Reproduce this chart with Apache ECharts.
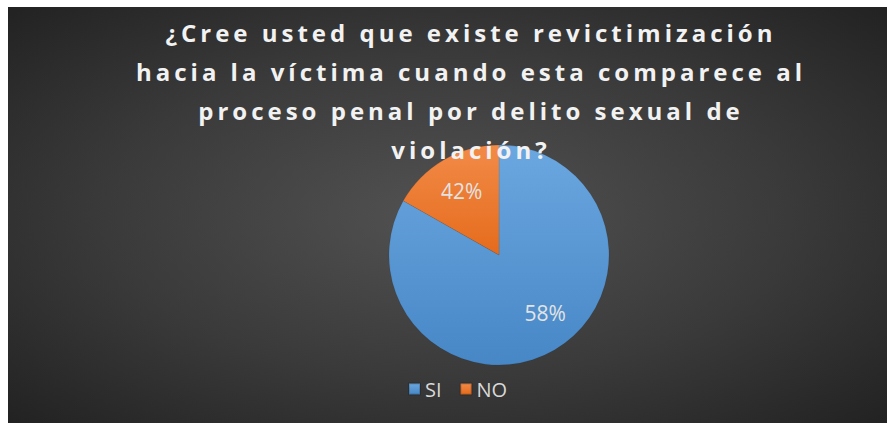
<!DOCTYPE html>
<html>
<head>
<meta charset="utf-8">
<script src="https://cdn.jsdelivr.net/npm/echarts@6/dist/echarts.min.js"></script>
<style>
	body { margin: 0; background: #fff; }
	#main {
		position: absolute; left: 8px; top: 7px; width: 879px; height: 416px;
		background: radial-gradient(ellipse farthest-corner at 50% 50%, #525252 0%, #3a3a3a 55%, #222222 100%);
	}
	/* the title is the only bold text: give it the wide tracking of the original */
	#main svg text[style*="bold"] { letter-spacing: 4px; }
</style>
</head>
<body>
<div id="main"></div>
<script>
	// categories and slice shares
	var categories = ['SI', 'NO'];
	var sliceValues = [83.2, 16.8];
	// the percent texts printed on the slices
	var sliceLabels = ['58%', '42%'];
	var sliceColors = ['#5b9bd5', '#ed7d31'];

	var chart = echarts.init(document.getElementById('main'), null, { renderer: 'svg' });

	var data = categories.map(function (name, i) {
		return {
			name: name,
			value: sliceValues[i],
			itemStyle: {
				color: new echarts.graphic.LinearGradient(0, 0, 0, 1, [
					{ offset: 0, color: i === 0 ? '#6ba7e0' : '#f28b48' },
					{ offset: 1, color: i === 0 ? '#4787c6' : '#e56b1c' }
				])
			}
		};
	});

	var option = {
		backgroundColor: 'transparent',
		color: sliceColors,
		title: {
			text: '¿Cree usted que existe revictimización\nhacia la víctima cuando esta comparece al\nproceso penal por delito sexual de\nviolación?',
			left: 458,
			top: 1,
			textAlign: 'center',
			textStyle: {
				fontFamily: 'Open Sans',
				fontWeight: 'bold',
				fontSize: 24,
				lineHeight: 39,
				color: '#f2f2f2'
			}
		},
		legend: {
			data: categories,
			left: 395,
			top: 367,
			icon: 'rect',
			itemWidth: 11,
			itemHeight: 11,
			itemGap: 18,
			textStyle: {
				fontFamily: 'Open Sans',
				fontSize: 20,
				color: '#d9d9d9'
			}
		},
		series: [{
			name: 'respuesta',
			type: 'pie',
			radius: [0, 110],
			center: [491, 248],
			startAngle: 90,
			data: data,
			label: { show: false },
			labelLine: { show: false },
			itemStyle: { borderColor: 'rgba(0,0,0,0.15)', borderWidth: 0.5 }
		}, {
			// transparent ring that only carries the percent labels
			name: 'etiquetas',
			type: 'pie',
			radius: [40, 110],
			center: [491, 248],
			startAngle: 90,
			silent: true,
			legendHoverLink: false,
			data: categories.map(function (name, i) {
				return {
					name: name,
					value: sliceValues[i],
					label: { offset: i === 0 ? [7, -9] : [2, 3] }
				};
			}),
			itemStyle: { color: 'rgba(0,0,0,0)' },
			label: {
				show: true,
				position: 'inside',
				formatter: function (p) { return sliceLabels[p.dataIndex]; },
				fontFamily: 'Open Sans',
				fontSize: 21,
				color: '#e3e3e3'
			},
			labelLine: { show: false }
		}]
	};

	chart.setOption(option);
</script>
</body>
</html>
